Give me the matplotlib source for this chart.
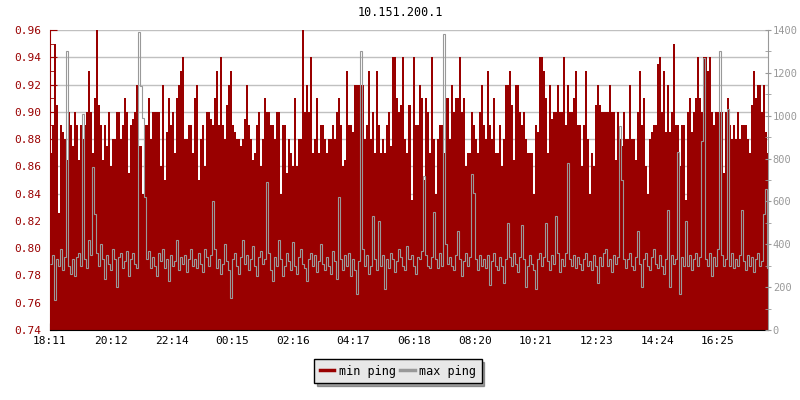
import numpy as np
import matplotlib
matplotlib.use("Agg")
from matplotlib import pyplot as plt
from matplotlib.lines import Line2D
from matplotlib.ticker import MultipleLocator

title = "10.151.200.1"
start_time = "18:11"
step_min = 4        # one sample every 4 minutes
span_min = 1434     # visible time window
tick_labels = ["18:11", "20:12", "22:14", "00:15", "02:16", "04:17",
               "06:18", "08:20", "10:21", "12:23", "14:24", "16:25"]

# min ping (left axis)
min_ping = [
    0.870, 0.890, 0.950, 0.905, 0.826, 0.890, 0.885, 0.880, 0.865, 0.900,
    0.890, 0.875, 0.900, 0.890, 0.865, 0.890, 0.880, 0.890, 0.900, 0.930,
    0.900, 0.870, 0.910, 0.960, 0.905, 0.890, 0.865, 0.890, 0.875, 0.900,
    0.860, 0.880, 0.880, 0.900, 0.900, 0.880, 0.890, 0.910, 0.900, 0.855,
    0.890, 0.895, 0.900, 0.920, 0.875, 0.875, 0.840, 0.890, 0.890, 0.910,
    0.880, 0.900, 0.900, 0.900, 0.900, 0.860, 0.920, 0.850, 0.885, 0.910,
    0.890, 0.900, 0.870, 0.910, 0.920, 0.930, 0.940, 0.880, 0.880, 0.890,
    0.890, 0.870,
    0.910, 0.920, 0.850, 0.880, 0.890, 0.860, 0.900, 0.900, 0.895, 0.890,
    0.910, 0.930, 0.890, 0.940, 0.890, 0.880, 0.905, 0.920, 0.930, 0.890,
    0.885, 0.880, 0.880, 0.875, 0.880, 0.895, 0.920, 0.890, 0.880, 0.865,
    0.870, 0.890, 0.900, 0.860, 0.880, 0.910, 0.900, 0.900, 0.890, 0.890,
    0.880, 0.900, 0.900, 0.840, 0.890, 0.890, 0.855, 0.880, 0.870, 0.860,
    0.910, 0.860, 0.880, 0.880, 0.960, 0.900, 0.920, 0.900, 0.940, 0.870,
    0.880, 0.910, 0.870, 0.890, 0.890, 0.880, 0.870, 0.880, 0.880, 0.890,
    0.880, 0.900,
    0.910, 0.890, 0.860, 0.865, 0.930, 0.890, 0.890, 0.885, 0.920, 0.920,
    0.920, 0.920, 0.920, 0.880, 0.890, 0.930, 0.880, 0.900, 0.870, 0.930,
    0.890, 0.870, 0.880, 0.870, 0.890, 0.900, 0.875, 0.940, 0.940, 0.910,
    0.900, 0.905, 0.940, 0.880, 0.870, 0.905, 0.835, 0.940, 0.890, 0.890,
    0.920, 0.910, 0.850, 0.910, 0.900, 0.870, 0.940, 0.880, 0.840, 0.880,
    0.890, 0.890, 0.870, 0.910, 0.910, 0.880, 0.920, 0.900, 0.910, 0.910,
    0.940, 0.900, 0.910, 0.860, 0.870, 0.870, 0.900, 0.890, 0.880, 0.870,
    0.900, 0.920,
    0.890, 0.880, 0.930, 0.890, 0.880, 0.910, 0.870, 0.870, 0.890, 0.860,
    0.880, 0.920, 0.920, 0.930, 0.905, 0.865, 0.920, 0.920, 0.900, 0.890,
    0.900, 0.880, 0.870, 0.870, 0.870, 0.840, 0.890, 0.885, 0.940, 0.940,
    0.930, 0.910, 0.870, 0.920, 0.895, 0.900, 0.900, 0.920, 0.900, 0.900,
    0.940, 0.890, 0.920, 0.900, 0.900, 0.910, 0.930, 0.890, 0.890, 0.860,
    0.890, 0.930, 0.880, 0.840, 0.870, 0.860, 0.905, 0.920, 0.905, 0.900,
    0.900, 0.900, 0.900, 0.920, 0.900, 0.900, 0.865, 0.900, 0.880, 0.875,
    0.900, 0.880,
    0.880, 0.920, 0.880, 0.880, 0.865, 0.900, 0.930, 0.890, 0.910, 0.860,
    0.840, 0.880, 0.885, 0.890, 0.890, 0.935, 0.940, 0.900, 0.930, 0.885,
    0.920, 0.885, 0.900, 0.950, 0.890, 0.890, 0.860, 0.890, 0.890, 0.835,
    0.900, 0.910, 0.885, 0.900, 0.910, 0.940, 0.910, 0.900, 0.940, 0.940,
    0.930, 0.940, 0.900, 0.890, 0.900, 0.900, 0.900, 0.900, 0.855, 0.900,
    0.910, 0.890, 0.880, 0.890, 0.880, 0.900, 0.880, 0.890, 0.890, 0.890,
    0.880, 0.870, 0.905, 0.930, 0.910, 0.920, 0.920, 0.900, 0.920, 0.885,
    0.870,
]

# max ping (right axis)
max_ping = [
    310, 350, 140, 330, 300, 380, 280, 340, 1300, 300,
    260, 330, 250, 340, 360, 300, 1010, 330, 290, 420,
    350, 760, 540, 360, 300, 400, 330, 240, 350, 310,
    280, 380, 330, 200, 340, 360, 290, 320, 370, 250,
    330, 360, 310, 290, 1390, 1140, 990, 620, 330, 370,
    290, 340, 300, 250, 360, 320, 380, 290, 330, 230,
    350, 300, 320, 420, 280, 340, 310, 350, 270, 330,
    380, 300,
    330, 290, 360, 310, 270, 380, 340, 300, 350, 600,
    380, 290, 330, 260, 310, 400, 320, 280, 150, 330,
    360, 300, 260, 340, 420, 310, 350, 280, 330, 390,
    300, 250, 340, 370, 310, 330, 690, 360, 280, 230,
    340, 300, 420, 330, 250, 300, 360, 320, 280, 410,
    300, 260, 340, 380, 310, 290, 230, 330, 360, 300,
    350, 270, 320, 400, 310, 280, 340, 300, 260, 370,
    320, 240,
    620, 330, 280, 350, 300, 360, 250, 330, 280, 170,
    320, 1300, 380, 300, 350, 260, 300, 530, 330, 280,
    510, 300, 350, 190, 330, 290, 360, 330, 270, 320,
    380, 340, 300, 280, 390, 330, 350, 300, 260, 340,
    330, 370, 720, 350, 300, 290, 340, 550, 330, 290,
    360, 300, 1380, 400, 310, 340, 300, 280, 350, 460,
    330, 250, 320, 360, 300, 340, 730, 640, 330, 280,
    350, 300,
    330, 290, 350, 210, 320, 360, 300, 280, 340, 300,
    220, 330, 500, 340, 300, 360, 310, 270, 340, 490,
    330, 200, 300, 350, 310, 280, 190, 330, 360, 300,
    340, 500, 320, 280, 350, 310, 530, 360, 270, 330,
    300, 360, 780, 330, 300, 350, 290, 340, 310, 280,
    330, 360, 300, 320, 280, 350, 300, 220, 340, 300,
    360, 380, 300, 330, 270, 350, 310, 340, 950, 700,
    330, 290,
    330, 360, 300, 280, 340, 460, 310, 200, 330, 360,
    300, 280, 340, 380, 310, 290, 350, 300, 260, 330,
    560, 200, 350, 310, 330, 830, 170, 340, 300, 510,
    300, 350, 280, 330, 360, 300, 340, 880, 1270, 330,
    300, 360, 250, 340, 300, 380, 1300, 350, 300, 330,
    1030, 300, 360, 290, 330, 300, 350, 560, 320, 280,
    350, 300, 340, 270, 330, 360, 300, 320, 540, 660,
    290,
]

RED = "#990000"
GREY = "#999999"

plt.rcParams["font.family"] = ["DejaVu Sans Mono"]
plt.rcParams["font.size"] = 8


def minutes_after_start(label):
    h, m = map(int, label.split(":"))
    h0, m0 = map(int, start_time.split(":"))
    return ((h * 60 + m) - (h0 * 60 + m0)) % 1440


edges = np.arange(len(min_ping) + 1) * step_min
ticks = [minutes_after_start(t) for t in tick_labels]

fig = plt.figure(figsize=(8, 4), dpi=100)
ax = fig.add_axes([50 / 800, 70 / 400, 718 / 800, 300 / 400])
ax2 = ax.twinx()

ax.set_axisbelow(True)
ax.yaxis.grid(True, color="#c0c0c0", linewidth=1)
ax.stairs(min_ping, edges, fill=True, baseline=0.74, color=RED, linewidth=0)
ax2.stairs(max_ping, edges, baseline=None, color=GREY, linewidth=0.8)

ax.set_xlim(0, span_min)
ax.set_ylim(0.74, 0.96)
ax2.set_ylim(0, 1400)

ax.set_xticks(ticks)
ax.set_xticklabels(tick_labels)
ax.yaxis.set_major_locator(MultipleLocator(0.02))
ax.yaxis.set_minor_locator(MultipleLocator(0.01))
ax.yaxis.set_major_formatter(matplotlib.ticker.FormatStrFormatter("%.2f"))
ax2.yaxis.set_major_locator(MultipleLocator(200))
ax2.yaxis.set_minor_locator(MultipleLocator(100))

ax.tick_params(axis="x", direction="in", length=5, colors="black", pad=4)
ax.tick_params(axis="y", which="both", direction="in", colors=RED, labelcolor=RED, pad=6)
ax.tick_params(axis="y", which="major", length=5)
ax.tick_params(axis="y", which="minor", length=3)
ax2.tick_params(axis="y", which="both", direction="inout", colors=GREY,
                labelcolor=GREY, pad=1, labelsize=7.5)
ax2.tick_params(axis="y", which="major", length=5)
ax2.tick_params(axis="y", which="minor", length=4)

for a in (ax, ax2):
    a.spines["top"].set_visible(False)
ax.spines["left"].set_color(RED)
ax2.spines["left"].set_visible(False)
ax2.spines["right"].set_color(GREY)
ax2.spines["bottom"].set_visible(False)
ax.spines["right"].set_visible(False)
ax.spines["bottom"].set_color("black")

fig.text(0.5, 1 - 13 / 400, title, ha="center", va="center", fontsize=8.5)

handles = [Line2D([], [], color=RED, linewidth=2.5),
           Line2D([], [], color=GREY, linewidth=2.5)]
leg = fig.legend(handles, ["min ping", "max ping"], loc="center",
                 bbox_to_anchor=(398 / 800, 1 - 371 / 400), ncol=2,
                 frameon=True, fancybox=False, shadow=True,
                 handlelength=1.2, handletextpad=0.4, columnspacing=0.4,
                 borderpad=0.45, fontsize=8.5)
leg.get_frame().set_facecolor("#e8e8e8")
leg.get_frame().set_edgecolor("black")
leg.get_frame().set_alpha(1)

fig.savefig("out.png", dpi=100, facecolor="white")
